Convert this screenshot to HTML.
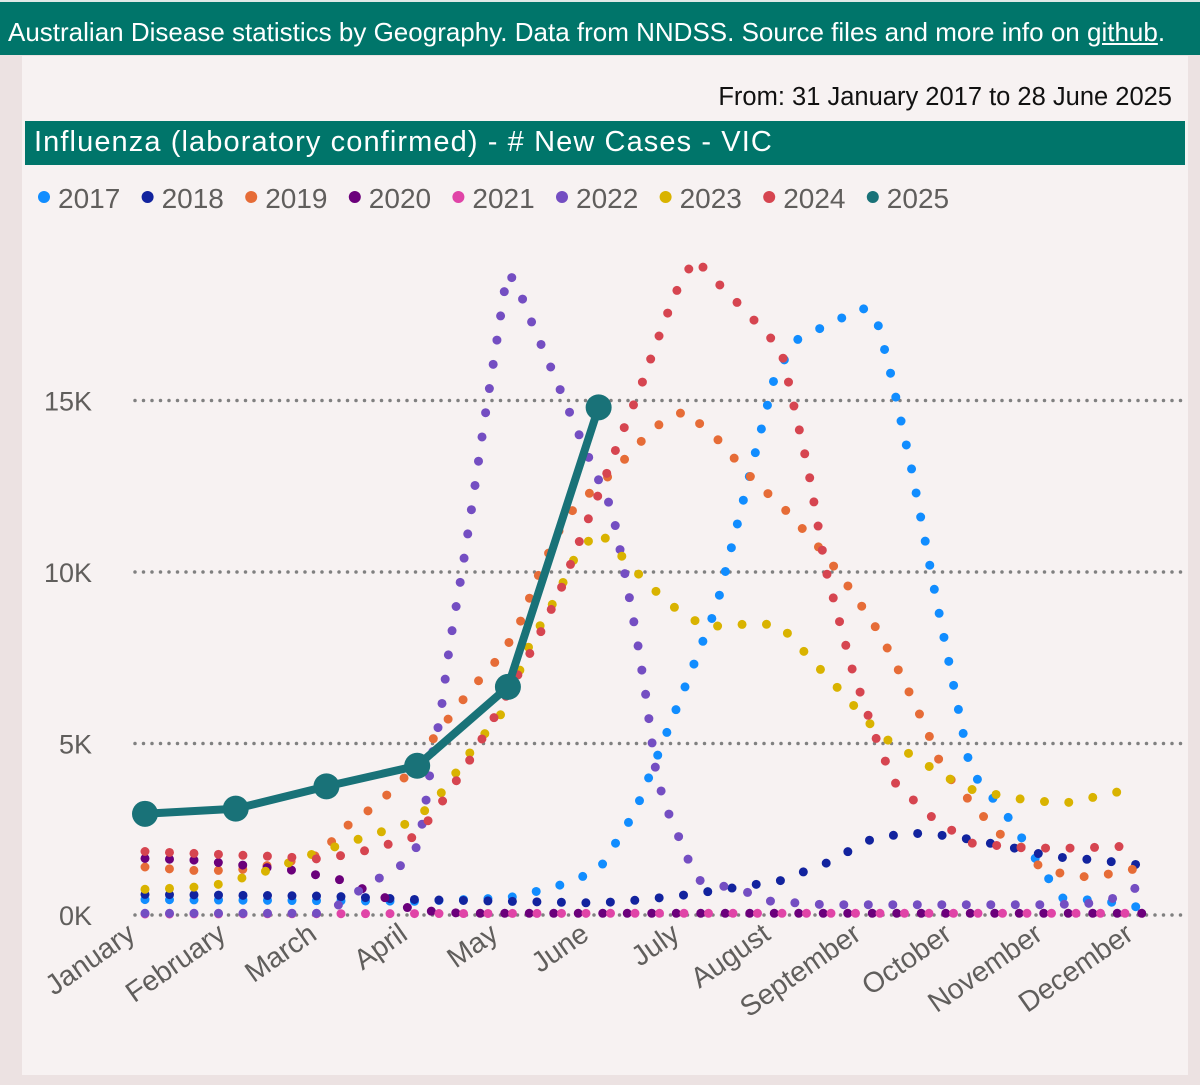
<!DOCTYPE html>
<html><head><meta charset="utf-8">
<style>
body{margin:0;width:1200px;height:1085px;background:#ece2e2;font-family:"Liberation Sans",sans-serif;overflow:hidden;position:relative}
#hdr{position:absolute;left:0;top:0;width:1200px;height:55px;background:#00756a;color:#fff;font-size:26px;line-height:60px;padding-left:8px;box-sizing:border-box;border-top:2px solid #dfe9e7;white-space:nowrap}
#hdr u{text-decoration:underline}
#panel{position:absolute;left:22px;top:56px;width:1166px;height:1019px;background:#f7f2f2}
#date{position:absolute;right:28px;top:83px;font-size:25.5px;color:#111}
#title{position:absolute;left:25px;top:121px;width:1160px;height:44px;background:#00756a;color:#fff;font-size:29px;line-height:42px;padding-left:9px;box-sizing:border-box;letter-spacing:1.1px;white-space:nowrap}
svg{position:absolute;left:0;top:0}
</style></head><body>
<div id="hdr">Australian Disease statistics by Geography. Data from NNDSS. Source files and more info on <u>github</u>.</div>
<div id="panel"></div>
<div id="date">From: 31 January 2017 to 28 June 2025</div>
<div id="title">Influenza (laboratory confirmed) - # New Cases - VIC</div>
<svg id="chart" width="1200" height="1085"></svg>
<script>
const months=["January","February","March","April","May","June","July","August","September","October","November","December"];
const yTicks=[0,5,10,15];
const yTickLabels=["0K","5K","10K","15K"];
const years=["2017","2018","2019","2020","2021","2022","2023","2024","2025"];
const colors=["#118DFF","#12239E","#E66C37","#6B007B","#E044A7","#744EC2","#D9B300","#D64550","#197278"];
// each series: [monthPosition, value in thousands]
const s2017=[[0,0.45],[3,0.4],[4,0.5],[4.5,0.8],[5,1.3],[5.4,3.0],[5.9,6.3],[6.3,9.0],[6.7,13.2],[6.95,15.8],[7.2,16.8],[7.6,17.3],[7.9,17.7],[8.05,17.5],[8.2,16.0],[8.45,13.0],[8.7,9.5],[8.95,6.2],[9.1,4.2],[9.5,2.9],[9.75,1.9],[10.1,0.5],[10.6,0.4],[11,0.2]];
const s2018=[[0,0.6],[2,0.55],[3,0.45],[4,0.4],[5,0.35],[5.5,0.45],[6,0.6],[6.5,0.8],[7,1.0],[7.5,1.5],[8,2.2],[8.4,2.4],[8.9,2.3],[9.5,2.0],[10,1.7],[10.5,1.6],[11,1.45]];
const s2019=[[0,1.4],[0.5,1.3],[1,1.3],[1.5,1.5],[2,1.8],[2.1,2.4],[2.35,2.8],[2.6,3.35],[2.8,3.8],[3.25,5.4],[3.6,6.6],[3.9,7.5],[4.1,8.3],[4.35,10],[4.6,11.4],[4.8,12.1],[5,12.5],[5.4,13.6],[5.6,14.2],[5.95,14.7],[6.3,13.9],[6.7,12.7],[7.1,11.7],[7.5,10.5],[7.8,9.4],[8.1,8.2],[8.35,6.9],[8.6,5.5],[8.8,4.2],[9.0,3.6],[9.4,2.4],[9.65,2.0],[9.9,1.3],[10.4,1.1],[10.75,1.25],[11,1.4]];
const s2020=[[0,1.65],[0.55,1.6],[1.1,1.45],[1.65,1.3],[2.2,1.0],[2.45,0.7],[2.7,0.45],[2.95,0.15],[3.5,0.05],[11,0.05]];
const s2021=[[0,0.03],[5,0.05],[11,0.05]];
const s2022=[[0,0.05],[2.0,0.05],[2.19,0.4],[2.41,0.8],[2.66,1.2],[2.89,1.55],[3.02,2.1],[3.11,3.55],[3.18,4.9],[3.25,5.7],[3.36,7.9],[3.5,10.1],[3.62,12.2],[3.74,14.4],[3.87,16.6],[3.99,18.7],[4.08,18.5],[4.29,17.1],[4.5,15.8],[4.72,14.4],[4.93,13.1],[5.03,12.5],[5.15,11.8],[5.3,9.8],[5.42,8.1],[5.52,6.4],[5.63,4.2],[5.73,3.2],[5.85,2.5],[5.96,1.75],[6.12,1.0],[6.6,0.7],[6.9,0.4],[7.5,0.3],[10,0.3],[10.5,0.35],[10.75,0.55],[11,0.9]];
const s2023=[[0,0.75],[0.5,0.8],[0.83,0.9],[1.36,1.3],[1.87,1.8],[2.4,2.25],[2.93,2.7],[3.13,3.15],[3.31,3.7],[3.64,4.95],[3.97,6.0],[4.24,7.9],[4.52,9.2],[4.76,10.55],[5.0,11.2],[5.38,10.1],[5.76,9.1],[6.17,8.4],[6.73,8.5],[7.0,8.45],[7.36,7.4],[7.73,6.35],[8.1,5.25],[8.57,4.45],[9.04,3.7],[9.59,3.4],[10.12,3.25],[10.67,3.55],[10.93,3.75]];
const s2024=[[0,1.85],[0.5,1.8],[1,1.75],[1.5,1.7],[1.93,1.63],[2.2,1.75],[2.47,1.9],[2.73,2.1],[3.0,2.3],[3.16,2.9],[3.33,3.5],[3.6,4.6],[3.9,6.0],[4.3,7.9],[4.6,9.6],[4.84,11.25],[5.05,12.6],[5.25,14.0],[5.45,15.3],[5.64,16.7],[5.84,18.1],[6.06,19.15],[6.25,18.6],[6.64,17.55],[7.01,16.5],[7.13,15.1],[7.31,13.0],[7.5,10.1],[7.79,7.2],[8.05,5.2],[8.25,3.9],[8.65,2.9],[9.1,2.1],[9.7,1.95],[10.25,1.95],[10.78,2.0]];
const s2025=[[0,2.95],[1,3.1],[2,3.75],[3,4.35],[4,6.65],[5,14.8]];
const series=[s2017,s2018,s2019,s2020,s2021,s2022,s2023,s2024];

const NS="http://www.w3.org/2000/svg";
const svg=document.getElementById('chart');
const X0=145,X1=1143,Y0=915,YK=34.3;
function xs(m){return X0+m*(X1-X0)/11;}
function ys(v){return Y0-v*YK;}
function mk(t,a,p){const e=document.createElementNS(NS,t);for(const k in a)e.setAttribute(k,a[k]);(p||svg).appendChild(e);return e;}

yTicks.forEach((t,i)=>{
  const g=mk('line',{x1:135,x2:1185,y1:ys(t),y2:ys(t),stroke:'#808080','stroke-width':3.5,'stroke-dasharray':'0 8.5','stroke-linecap':'round'});
  
  
  const l=mk('text',{x:92,y:ys(t)+10,'text-anchor':'end','font-size':27,fill:'#605e5c'});
  l.textContent=yTickLabels[i];
  
  
});
months.forEach((m,i)=>{
  const x=xs(i)-8,y=938;
  const t=mk('text',{x:x,y:y,'text-anchor':'end','font-size':28.5,fill:'#605e5c',transform:`rotate(-35 ${x} ${y})`});
  t.textContent=m;
  
  
});
series.forEach((s,i)=>{
  const d=s.map((p,j)=>(j?'L':'M')+xs(p[0]).toFixed(1)+','+ys(p[1]).toFixed(1)).join(' ');
  const p=mk('path',{d:d,fill:'none',stroke:colors[i],'stroke-width':9,'stroke-linecap':'round','stroke-linejoin':'round','stroke-dasharray':'0 24.5'});
  
  
});
{
  const d=s2025.map((p,j)=>(j?'L':'M')+xs(p[0]).toFixed(1)+','+ys(p[1]).toFixed(1)).join(' ');
  const p=mk('path',{d:d,fill:'none',stroke:colors[8],'stroke-width':8,'stroke-linejoin':'round'});
  
  
  s2025.forEach(pt=>{
    const c=mk('circle',{cx:xs(pt[0]),cy:ys(pt[1]),r:13,fill:colors[8]});
    
    
  });
}
years.forEach((y,i)=>{
  const x=44+i*103.6;
  const c=mk('circle',{cx:x,cy:197,r:6,fill:colors[i]});
  
  
  const t=mk('text',{x:x+14,y:208,'font-size':28,fill:'#605e5c'});
  t.textContent=y;
  
  
});
</script>
</body></html>
